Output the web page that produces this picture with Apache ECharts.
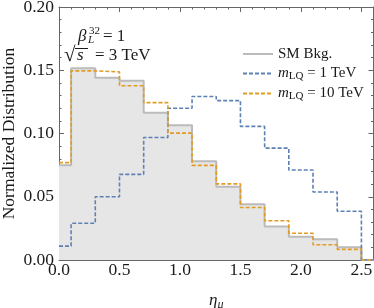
<!DOCTYPE html>
<html><head><meta charset="utf-8">
<script src="https://cdn.jsdelivr.net/npm/echarts@6/dist/echarts.min.js"></script>
<style>html,body{margin:0;padding:0;background:#fff}#c{width:374px;height:308px}</style>
</head><body><div id="c"></div>
<script>
// ---- data ----
const binEdges = [0, 0.1, 0.3, 0.5, 0.7, 0.9, 1.1, 1.3, 1.5, 1.7, 1.9, 2.1, 2.3, 2.5];
const smBkg  = [0.075, 0.1515, 0.144, 0.1417, 0.1165, 0.1066, 0.078, 0.058, 0.044, 0.0265, 0.0183, 0.0165, 0.010];
const mLQ1   = [0.011, 0.029, 0.050, 0.0677, 0.0968, 0.120, 0.1293, 0.126, 0.1056, 0.0884, 0.0711, 0.0538, 0.0385];
const mLQ10  = [0.077, 0.1495, 0.1487, 0.1378, 0.1244, 0.1003, 0.0748, 0.0602, 0.0415, 0.031, 0.0212, 0.012, 0.0084];
const seriesNames = ['SM Bkg.', 'm_LQ = 1 TeV', 'm_LQ = 10 TeV'];
const xRange = [0, 2.6];
const yRange = [0, 0.2];
const xMajor = 0.5, xMinor = 0.1, yMajor = 0.05;

const FONT = '"Liberation Serif", "Times New Roman", Times, serif';
const AX = '#666666';
const TXT = '#1a1a1a';

function steps(vals) {
  const pts = [];
  for (let i = 0; i < vals.length; i++) {
    pts.push([binEdges[i], vals[i]]);
    pts.push([binEdges[i + 1], vals[i]]);
  }
  const last = binEdges[binEdges.length - 1];
  pts.push([last, 0]);
  pts.push([xRange[1], 0]);
  return pts;
}

const chart = echarts.init(document.getElementById('c'), null, {renderer: 'canvas'});

function xAx(pos, interval, len, labels, line) {
  return {
    type: 'value', position: pos, min: xRange[0], max: xRange[1], interval: interval,
    axisLine: {show: line, onZero: false, lineStyle: {color: AX, width: 1}},
    axisTick: {show: true, inside: true, length: len, lineStyle: {color: AX, width: 1}},
    axisLabel: {show: labels, showMaxLabel: false, formatter: v => v.toFixed(1), fontFamily: FONT, fontSize: 17.5, color: TXT, margin: 1},
    splitLine: {show: false}
  };
}
function yAx(pos, labels) {
  return {
    type: 'value', position: pos, min: yRange[0], max: yRange[1], interval: yMajor,
    axisLine: {show: true, onZero: false, lineStyle: {color: AX, width: 1}},
    axisTick: {show: true, inside: true, length: 5, lineStyle: {color: AX, width: 1}},
    minorTick: {show: true, splitNumber: 5, length: 2.5, lineStyle: {color: AX, width: 1}},
    axisLabel: {show: labels, formatter: v => v.toFixed(2), fontFamily: FONT, fontSize: 17.5, color: TXT, margin: 5},
    splitLine: {show: false}
  };
}

const xAxes = [
  xAx('bottom', xMajor, 5, true, true),
  xAx('bottom', xMinor, 2.5, false, false),
  xAx('top', xMajor, 5, false, true),
  xAx('top', xMinor, 2.5, false, false)
];
Object.assign(xAxes[0], {
  name: '{e|η}{s|μ}', nameLocation: 'middle', nameGap: 31, nameMoveOverlap: false,
  nameTextStyle: {fontFamily: FONT, color: TXT, rich: {
    e: {fontFamily: FONT, fontStyle: 'italic', fontSize: 17, color: TXT},
    s: {fontFamily: FONT, fontStyle: 'italic', fontSize: 12, color: TXT, padding: [8, 0, 0, 0]}
  }}
});
const yAxes = [yAx('left', true), yAx('right', false)];
Object.assign(yAxes[0], {
  name: 'Normalized Distribution', nameLocation: 'middle', nameGap: 41, nameMoveOverlap: false,
  nameTextStyle: {fontFamily: FONT, fontSize: 17.5, color: TXT}
});

const dash = [4, 2];
const option = {
  animation: false,
  backgroundColor: '#ffffff',
  grid: {left: 59, right: 0.5, top: 7, bottom: 48, containLabel: false, outerBoundsMode: 'none'},
  xAxis: xAxes,
  yAxis: yAxes,
  legend: {
    orient: 'vertical', left: 242, top: 46, padding: 0, itemWidth: 30, itemHeight: 10, itemGap: 3.5,
    data: seriesNames,
    itemStyle: {opacity: 0},
    formatter: n => n.replace('m_LQ', '{i|m}{sub|LQ}'),
    textStyle: {fontFamily: FONT, fontSize: 15, lineHeight: 16, color: TXT, rich: {
      i: {fontFamily: FONT, fontStyle: 'italic', fontSize: 15, color: TXT},
      sub: {fontFamily: FONT, fontSize: 11, color: TXT, padding: [6, 0, 0, 0]}
    }}
  },
  series: [
    {name: seriesNames[0], type: 'line', data: steps(smBkg), symbol: 'none', z: 2,
     lineStyle: {color: '#bbbbbb', width: 2}, itemStyle: {color: '#bbbbbb'},
     areaStyle: {color: '#e6e6e6', opacity: 1}},
    {name: seriesNames[1], type: 'line', data: steps(mLQ1), symbol: 'none', z: 3,
     lineStyle: {color: '#5e81b5', width: 1.6, type: dash}, itemStyle: {color: '#5e81b5'}},
    {name: seriesNames[2], type: 'line', data: steps(mLQ10), symbol: 'none', z: 4,
     lineStyle: {color: '#e19c24', width: 1.6, type: dash}, itemStyle: {color: '#e19c24'}}
  ],
  graphic: [
    {type: 'text', left: 78, top: 28, style: {text: 'β', font: 'italic 17px "Liberation Serif"', fill: TXT}},
    {type: 'text', left: 89, top: 26, style: {text: '32', font: '11px "Liberation Serif"', fill: TXT}},
    {type: 'text', left: 88, top: 35, style: {text: 'L', font: 'italic 11px "Liberation Serif"', fill: TXT}},
    {type: 'text', left: 103, top: 28, style: {text: '= 1', font: '17px "Liberation Serif"', fill: TXT}},
    {type: 'text', left: 64, top: 45, style: {text: '√', font: '21px "Liberation Serif"', fill: TXT}},
    {type: 'line', shape: {x1: 75, y1: 48.5, x2: 88, y2: 48.5}, style: {stroke: TXT, lineWidth: 1}},
    {type: 'text', left: 77, top: 47, style: {text: 's', font: 'italic 17px "Liberation Serif"', fill: TXT}},
    {type: 'text', left: 95, top: 47, style: {text: '= 3 TeV', font: '17px "Liberation Serif"', fill: TXT}}
  ]
};
chart.setOption(option);
</script>
</body></html>
